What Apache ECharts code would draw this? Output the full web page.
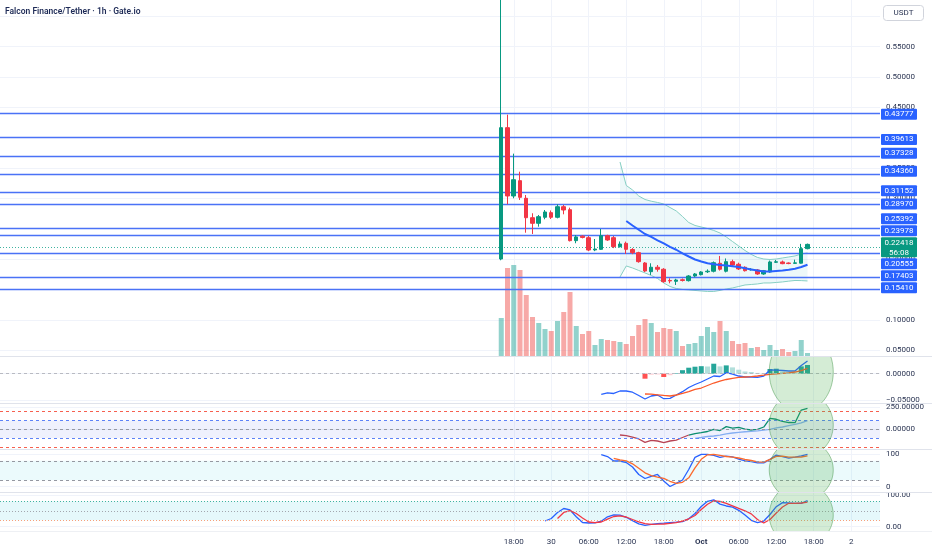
<!DOCTYPE html>
<html><head><meta charset="utf-8">
<script src="https://cdn.jsdelivr.net/npm/echarts@6/dist/echarts.min.js"></script>
<style>html,body{margin:0;padding:0;background:#fff}#c{width:932px;height:550px}</style>
</head><body><div id="c"></div>
<script>
// ---------- DATA ----------
const times = [
 '09-29 16:00','09-29 17:00','09-29 18:00','09-29 19:00','09-29 20:00','09-29 21:00','09-29 22:00','09-29 23:00',
 '09-30 00:00','09-30 01:00','09-30 02:00','09-30 03:00','09-30 04:00','09-30 05:00','09-30 06:00','09-30 07:00',
 '09-30 08:00','09-30 09:00','09-30 10:00','09-30 11:00','09-30 12:00','09-30 13:00','09-30 14:00','09-30 15:00',
 '09-30 16:00','09-30 17:00','09-30 18:00','09-30 19:00','09-30 20:00','09-30 21:00','09-30 22:00','09-30 23:00',
 '10-01 00:00','10-01 01:00','10-01 02:00','10-01 03:00','10-01 04:00','10-01 05:00','10-01 06:00','10-01 07:00',
 '10-01 08:00','10-01 09:00','10-01 10:00','10-01 11:00','10-01 12:00','10-01 13:00','10-01 14:00','10-01 15:00',
 '10-01 16:00','10-01 17:00'];
const open  = [0.2001,0.4164,0.3039,0.3291,0.3001,0.2681,0.2589,0.2688,0.2764,0.2688,0.2862,0.2813,0.2303,0.2377,0.2352,0.2150,0.2160,0.2385,0.2352,0.2204,0.2259,0.2157,0.2105,0.1935,0.1792,0.1865,0.1832,0.1647,0.1633,0.1659,0.1644,0.1721,0.1743,0.1790,0.1799,0.1930,0.1799,0.1957,0.1914,0.1865,0.1823,0.1820,0.1754,0.1787,0.1947,0.1952,0.1935,0.1929,0.1932,0.2171];
const close = [0.4164,0.3039,0.3307,0.3017,0.2681,0.2589,0.2698,0.2775,0.2688,0.2862,0.2808,0.2303,0.2364,0.2356,0.2149,0.2165,0.2385,0.2314,0.2204,0.2248,0.2160,0.2105,0.1957,0.1803,0.1865,0.1832,0.1628,0.1639,0.1655,0.1647,0.1721,0.1754,0.1787,0.1800,0.1940,0.1832,0.1957,0.1902,0.1837,0.1808,0.1832,0.1754,0.1808,0.1952,0.1955,0.1924,0.1926,0.1937,0.2171,0.22418];
const low   = [0.1980,0.2902,0.3001,0.2973,0.2434,0.2413,0.2533,0.2655,0.2660,0.2670,0.2737,0.2290,0.2260,0.2340,0.2130,0.2130,0.2150,0.2300,0.2180,0.2190,0.2084,0.2080,0.1940,0.1785,0.1738,0.1792,0.1610,0.1601,0.1573,0.1630,0.1630,0.1700,0.1730,0.1770,0.1780,0.1810,0.1780,0.1890,0.1820,0.1795,0.1810,0.1740,0.1740,0.1775,0.1935,0.1915,0.1915,0.1920,0.1925,0.2160];
const high  = [0.6600,0.4378,0.3736,0.3439,0.3055,0.2754,0.2726,0.2808,0.2800,0.2902,0.2891,0.2846,0.2396,0.2390,0.2380,0.2330,0.2495,0.2400,0.2380,0.2290,0.2287,0.2180,0.2120,0.1950,0.1930,0.1902,0.1850,0.1683,0.1675,0.1680,0.1735,0.1770,0.1800,0.1830,0.1960,0.2051,0.2010,0.1990,0.1940,0.1880,0.1850,0.1835,0.1820,0.1975,0.1985,0.1975,0.1945,0.1990,0.2250,0.2255];
const volume = [38,88,91,86,61,39,33,27,25,35,44,64,30,22,25,11,17,16,15,14,12,20,31,37,33,24,28,27,25,10,12,13,20,29,24,35,25,15,12,13,8,9,6,11,6,7,4,5,16,3];

const levels = [0.43777,0.39613,0.37328,0.34360,0.31152,0.28970,0.25392,0.23978,0.20555,0.17403,0.15410];
const lastPrice = 0.22418;
const countdown = '56:08';

// overlays (first candle number, values)
const maStart = 21;
const maLine = [0.2627,0.2553,0.2482,0.2413,0.2364,0.2309,0.2257,0.2202,0.2153,0.2092,0.2042,0.1993,0.1960,0.1930,0.1914,0.1902,0.1894,0.1883,0.1869,0.1850,0.1828,0.1812,0.1795,0.1795,0.1804,0.1812,0.1825,0.1841,0.1869,0.1906];
const bbStart = 20;
const bbUpper = [0.3599,0.3212,0.3138,0.3039,0.2981,0.2953,0.2932,0.2907,0.2849,0.2792,0.2701,0.2602,0.2553,0.2528,0.2503,0.2471,0.2429,0.2364,0.2289,0.2215,0.2141,0.2076,0.2026,0.2001,0.1993,0.2001,0.2018,0.2034,0.2051,0.2083,0.2100];
const bbLower = [0.1705,0.1886,0.1853,0.1812,0.1771,0.1729,0.1680,0.1606,0.1548,0.1515,0.1499,0.1491,0.1483,0.1474,0.1466,0.1466,0.1483,0.1507,0.1524,0.1548,0.1573,0.1581,0.1590,0.1606,0.1606,0.1614,0.1623,0.1636,0.1647,0.1645,0.1639];

const macdStart = 17;
const macdLine = [-0.0395,-0.0363,-0.0376,-0.0329,-0.0329,-0.0352,-0.0414,-0.0481,-0.0424,-0.0405,-0.0475,-0.0468,-0.0405,-0.0342,-0.0262,-0.0205,-0.0158,-0.0101,-0.0044,-0.0053,0.0019,-0.0006,-0.0044,-0.0063,-0.0063,-0.0068,-0.0044,0.0070,0.0067,0.0061,0.0051,0.0051,0.0156,0.0241];
const signalStart = 24;
const macdSignal = [-0.0386,-0.0390,-0.0401,-0.0413,-0.0424,-0.0405,-0.0376,-0.0342,-0.0300,-0.0272,-0.0224,-0.0177,-0.0139,-0.0110,-0.0087,-0.0070,-0.0063,-0.0057,-0.0044,-0.0029,-0.0011,-0.0002,0.0006,0.0017,0.0032,0.0057,0.0103];
const macdHist = [-0.0095,-0.0019,-0.0015,-0.0063,-0.0029,0.0010,0.0067,0.0114,0.0133,0.0143,0.0137,0.0190,0.0139,0.0158,0.0120,0.0076,0.0042,0.0032,0.0015,0.0010,0.0089,0.0095,0.0038,0.0029,0.0019,0.0139,0.0165];

const cciStart = 20, cciTurn = 31;
const cciLine = [-65,-73,-88,-110,-148,-125,-133,-151,-133,-122,-93,-65,-48,-39,-25,-2,-14,30,13,21,3,-8,-2,26,123,114,89,77,75,219,239];
const cciSigStart = 32;
const cciSignal = [-102,-93,-82,-76,-65,-53,-42,-34,-28,-23,-17,-10,0,15,26,41,55,72,98];

const stochKStart = 17;
const stochK = [99,93.2,79.3,79.3,74.7,60.8,37.7,25.3,32.1,37.7,17.6,0.5,10.2,20.7,53,90.4,99.7,99.7,97,90.4,94.4,92.3,85.2,79.9,77.5,73.5,73.5,84.3,97.5,92.6,88,91.4,95.4,99.5];
const stochDStart = 19;
const stochD = [87.7,83,79.9,70.7,56.8,42.9,34.3,29.6,25.9,16.7,10.5,13.6,27.5,58.3,84.6,98.5,99.7,96.9,93.2,91.4,88.6,84,80.9,76.9,75.6,84.6,93.5,94.4,91.4,91.4,91.7,95.4];

const srsiKStart = 8;
const srsiK = [18,25.9,44.8,57.4,52.7,31.5,13.2,11.7,12.3,17.4,31.2,36.9,36.3,29.7,18.9,9.1,4.4,7.3,9.5,11,12.9,14.2,15.8,24.9,41.6,63.7,80.1,84.9,71.3,65.3,61.5,51.7,36.9,20.2,12.9,17.9,38.5,63.1,76,74.8,73.8,73.8,82.6];
const srsiDStart = 10;
const srsiD = [25.9,44.8,50.8,41.6,27.4,14.8,12.9,14.8,23.7,32.2,34.4,30.6,22.7,15.5,9.8,7.6,7.9,8.5,10.4,12.6,17.4,24.9,35.3,54.3,70.9,81.7,79.5,73.5,65.6,57.7,50.2,40.4,22.7,11.7,22.7,43.2,62.1,73.8,73.8,74.8,77.3];

const priceTicks = [0.05,0.10,0.15,0.20,0.25,0.30,0.35,0.40,0.45,0.50,0.55];
const priceGridTicks = [0.05,0.10,0.15,0.20,0.25,0.30,0.35,0.40,0.45,0.50,0.55,0.60];
const timeTicks = ['09-29 18:00','09-30 00:00','09-30 06:00','09-30 12:00','09-30 18:00','10-01 00:00','10-01 06:00','10-01 12:00','10-01 18:00','10-02 00:00'];
const timeTickLabels = ['18:00','30','06:00','12:00','18:00','Oct','06:00','12:00','18:00','2'];
const highlightTime = '10-01 16:00';

// ---------- HELPERS ----------
const base = Date.UTC(2025, 8, 29);
function hourOf(t){ const [md,hm]=t.split(' '); const [m,d]=md.split('-').map(Number); const H=+hm.split(':')[0]; return (Date.UTC(2025,m-1,d,H)-base)/3600000; }
const hrs = times.map(hourOf);
const tickHours = timeTicks.map(hourOf);
function pts(start, arr){ return arr.map((v,i)=>[hrs[start-1+i], v]); }

const X_MIN = -64.2, X_MAX = 76.6;
const FONT = 'Roboto, "Noto Sans", sans-serif';
const TXT = '#2b3553';
const UP = '#089981', DN = '#f23645';
const GRID_LINE = '#f0f3fa';
const DASH = [3,3], DOT = [1,2];
const grids = [
  {left:0, width:880, top:0, height:356},
  {left:0, width:880, top:357, height:46},
  {left:0, width:880, top:404, height:45},
  {left:0, width:880, top:450, height:42},
  {left:0, width:880, top:493, height:38}
];

const xAxes = grids.map((g,i)=>({
  type:'value', gridIndex:i, min:X_MIN, max:X_MAX,
  axisLine:{show:false}, axisTick:{show:false, customValues:tickHours},
  axisLabel:{show:i===4, customValues:tickHours, fontSize:8, color:TXT, margin:7, fontFamily:FONT,
    formatter:v=>{ const k = tickHours.findIndex(h=>Math.abs(h-v)<0.01); if(k<0) return ''; const s = timeTickLabels[k]; return /[A-Za-z]/.test(s) ? '{b|'+s+'}' : s; },
    rich:{b:{fontWeight:'bold', fontSize:8, color:TXT, fontFamily:FONT}}},
  splitLine:{show:true, lineStyle:{color:GRID_LINE, width:1}}
}));

function yAx(gi, min, max, ticks, fmt){
  return {type:'value', gridIndex:gi, position:'right', min, max, scale:false,
    axisLine:{show:false}, axisTick:{show:false, customValues:ticks},
    axisLabel:{customValues:ticks, formatter:fmt, fontSize:8, color:TXT, margin:6, fontFamily:FONT},
    splitLine:{show:true, lineStyle:{color:GRID_LINE, width:1}}};
}
const minus = s => s.replace('-', '\u2212');
const priceAxis = yAx(0, 0.0403, 0.6267, priceGridTicks, v=> v>0.575 ? '' : v.toFixed(5));
priceAxis.axisLabel.customValues = priceTicks;
const yAxes = [
  priceAxis,
  {type:'value', gridIndex:0, min:0, max:356, show:false},
  yAx(1, -0.0557, 0.03175, [-0.05, 0], v=>minus(v.toFixed(5))),
  yAx(2, -223.9, 287.5, [0, 250], v=>v.toFixed(5)),
  yAx(3, -16.4, 113.3, [0, 100], v=>String(Math.round(v))),
  yAx(4, -13.6, 106.3, [0, 100], v=>v.toFixed(2))
];

function line(name, xi, yi, data, color, width, z){
  return {type:'line', name, xAxisIndex:xi, yAxisIndex:yi, data, showSymbol:false, symbol:'none',
    lineStyle:{color, width}, itemStyle:{color}, z:z||4, silent:true, animation:false};
}
// horizontal reference lines: one series per colour
function refLines(xi, yi, values, color, type, width, z){
  return {type:'line', xAxisIndex:xi, yAxisIndex:yi, data:[], silent:true, animation:false, z:z||3,
    itemStyle:{color}, lineStyle:{color},
    markLine:{symbol:['none','none'], silent:true, animation:false, label:{show:false},
      lineStyle:{color, type, width:width||1, opacity:1}, itemStyle:{color},
      emphasis:{disabled:true},
      data: values.map(v=>({yAxis:v}))}};
}
function band(xi, yi, lo, hi, color){
  return {type:'line', xAxisIndex:xi, yAxisIndex:yi, data:[], silent:true, animation:false, z:1,
    markArea:{silent:true, itemStyle:{color}, data:[[{yAxis:lo},{yAxis:hi}]]}};
}

// Bollinger fill polygon
const bbFill = {
  type:'custom', xAxisIndex:0, yAxisIndex:0, z:1, silent:true, clip:true,
  data:[[hrs[hrs.length-1], bbUpper[bbUpper.length-1]]],
  renderItem:(params, api)=>{
    const up = bbUpper.map((v,i)=>api.coord([hrs[bbStart-1+i], v]));
    const lo = bbLower.map((v,i)=>api.coord([hrs[bbStart-1+i], v])).reverse();
    return {type:'polygon', shape:{points:up.concat(lo)}, style:{fill:'rgba(0,150,170,0.07)', stroke:null}};
  }
};

// highlight ellipses (drawing), one per indicator pane
const hl = hourOf(highlightTime);
const ellipses = [
  {xi:1, yi:2, cy:0.0032, ry:40},
  {xi:2, yi:3, cy:49, ry:33},
  {xi:3, yi:4, cy:51.5, ry:31},
  {xi:4, yi:5, cy:37, ry:32}
].map(e=>({
  type:'custom', xAxisIndex:e.xi, yAxisIndex:e.yi, z:20, silent:true, clip:true,
  data:[[hl, e.cy]],
  renderItem:(params, api)=>{
    const c = api.coord([api.value(0), api.value(1)]);
    const p = [];
    for(let k=0;k<96;k++){ const a = k/96*Math.PI*2; p.push([c[0]+32*Math.cos(a), c[1]+e.ry*Math.sin(a)]); }
    return {type:'polygon', shape:{points:p}, style:{fill:'rgba(76,175,80,0.24)', stroke:'rgba(56,142,60,0.45)', lineWidth:1}};
  }
}));

const candleData = times.map((t,i)=>[hrs[i], open[i], close[i], low[i], high[i]]);
const volData = volume.map((v,i)=>({value:[hrs[i], v], itemStyle:{color: close[i]>=open[i] ? 'rgba(38,166,154,0.5)' : 'rgba(239,83,80,0.5)'}}));
const histData = macdHist.map((v,i)=>{
  const prev = i>0 ? macdHist[i-1] : v;
  let col;
  if(v>=0) col = v>=prev ? '#26a69a' : '#b2dfdb';
  else col = v<prev ? '#ff5252' : '#ffcdd2';
  if(i===0) col = v>=0 ? '#26a69a' : '#ff5252';
  return {value:[hrs[signalStart-1+i], v], itemStyle:{color:col}};
});

const cciRed = cciLine.slice(0, cciTurn-cciStart+1);
const cciGreen = cciLine.slice(cciTurn-cciStart);

const option = {
  animation:false,
  textStyle:{fontFamily:FONT},
  grid: grids,
  xAxis: xAxes,
  yAxis: yAxes,
  series: [
    bbFill,
    line('bbU',0,0,pts(bbStart,bbUpper),'#86cfc3',1,3),
    line('bbL',0,0,pts(bbStart,bbLower),'#86cfc3',1,3),
    {type:'bar', xAxisIndex:0, yAxisIndex:1, data:volData, barWidth:5, z:2, silent:true, animation:false},
    {type:'candlestick', xAxisIndex:0, yAxisIndex:0, data:candleData, barWidth:4, z:5, clip:true,
      dimensions:['t','open','close','low','high'], encode:{x:'t', y:['open','close','low','high']},
      itemStyle:{color:UP, color0:DN, borderColor:UP, borderColor0:DN, borderWidth:1}},
    refLines(0,0,levels,'#4a72f6','solid',1.4,7),
    refLines(0,0,[lastPrice],'#3fb3a0',DOT,1,7),
    line('ma',0,0,pts(maStart,maLine),'#2962ff',2,6),
    // MACD
    {type:'bar', xAxisIndex:1, yAxisIndex:2, data:histData, barWidth:5, z:2, silent:true, animation:false},
    refLines(1,2,[0],'#b8bac2',DASH),
    line('macd',1,2,pts(macdStart,macdLine),'#2962ff',1.3),
    line('signal',1,2,pts(signalStart,macdSignal),'#fb5a2a',1.3),
    // CCI-like pane
    band(2,3,-100,100,'rgba(80,100,230,0.09)'),
    refLines(2,3,[200,-200],'#f6604f',DASH),
    refLines(2,3,[100,-100],'#5d82f7',DASH),
    refLines(2,3,[0],'#9598a1',DASH),
    line('cciR',2,3,pts(cciStart,cciRed),'#b84455',1.3),
    line('cciG',2,3,pts(cciTurn,cciGreen),'#0b8e6f',1.3),
    line('cciS',2,3,pts(cciSigStart,cciSignal),'#84aef2',1.3),
    // Stochastic
    band(3,4,20,80,'rgba(0,188,212,0.08)'),
    refLines(3,4,[80,20],'#9598a1',DASH),
    line('stK',3,4,pts(stochKStart,stochK),'#2962ff',1.3),
    line('stD',3,4,pts(stochDStart,stochD),'#fb6a2d',1.3),
    // Stoch RSI
    band(4,5,20,80,'rgba(0,188,212,0.10)'),
    refLines(4,5,[80],'#3fb3a0',DOT),
    refLines(4,5,[50],'#a3a6ae',DOT),
    refLines(4,5,[20],'#f7a07a',DOT),
    line('srK',4,5,pts(srsiKStart,srsiK),'#2962ff',1.3),
    line('srD',4,5,pts(srsiDStart,srsiD),'#f23645',1.3)
  ].concat(ellipses)
};

const chart = echarts.init(document.getElementById('c'));
chart.setOption(option);

// ---------- right-scale price labels with overlap resolution ----------
function buildGraphics(){
  const items = levels.map(v=>({y:chart.convertToPixel({yAxisIndex:0}, v), h:12, off:6, color:'#2962ff', lines:[v.toFixed(5)]}));
  items.push({y:chart.convertToPixel({yAxisIndex:0}, lastPrice), h:21, off:6, color:UP, lines:[lastPrice.toFixed(5), countdown]});
  items.sort((a,b)=>a.y-b.y);
  let clusters = items.map(it=>({items:[it], top:it.y-it.off, h:it.h}));
  let changed = true;
  while(changed){
    changed = false;
    for(let i=0;i<clusters.length-1;i++){
      const a = clusters[i], b = clusters[i+1];
      if(a.top + a.h > b.top + 0.01){
        const its = a.items.concat(b.items);
        let o = 0, s = 0;
        its.forEach(it=>{ s += (it.y-it.off) - o; o += it.h; });
        clusters.splice(i, 2, {items:its, h:o, top:s/its.length});
        changed = true; break;
      }
    }
  }
  const g = [];
  clusters.forEach(c=>{
    let t = c.top;
    c.items.forEach(it=>{
      g.push({type:'rect', z:100, shape:{x:881, y:t, width:36, height:it.h-1, r:1}, style:{fill:it.color}});
      it.lines.forEach((s,k)=>{
        g.push({type:'text', z:101, x:899, y:t+5.5+k*10, style:{text:s, fill:'#fff', font:'8px '+FONT, align:'center', verticalAlign:'middle'}});
      });
      t += it.h;
    });
  });
  // pane separators
  [356.5, 403.5, 449.5, 492.5].forEach(y=>{
    g.push({type:'line', z:50, shape:{x1:0, y1:y, x2:932, y2:y}, style:{stroke:'#e0e3eb', lineWidth:1}});
  });
  g.push({type:'line', z:50, shape:{x1:0, y1:531.5, x2:932, y2:531.5}, style:{stroke:'#eef0f4', lineWidth:1}});
  // title
  g.push({type:'text', z:100, x:5, y:12, style:{text:'Falcon Finance/Tether \u00b7 1h \u00b7 Gate.io', fill:'#1e2b57', font:'600 8.5px '+FONT, verticalAlign:'middle'}});
  // currency box
  g.push({type:'rect', z:100, shape:{x:883.5, y:5.5, width:40, height:15, r:3}, style:{fill:'#fff', stroke:'#d1d4dc', lineWidth:1}});
  g.push({type:'text', z:101, x:903.5, y:13, style:{text:'USDT', fill:TXT, font:'8px '+FONT, align:'center', verticalAlign:'middle'}});
  chart.setOption({graphic:g});
}
buildGraphics();
</script>
</body></html>
